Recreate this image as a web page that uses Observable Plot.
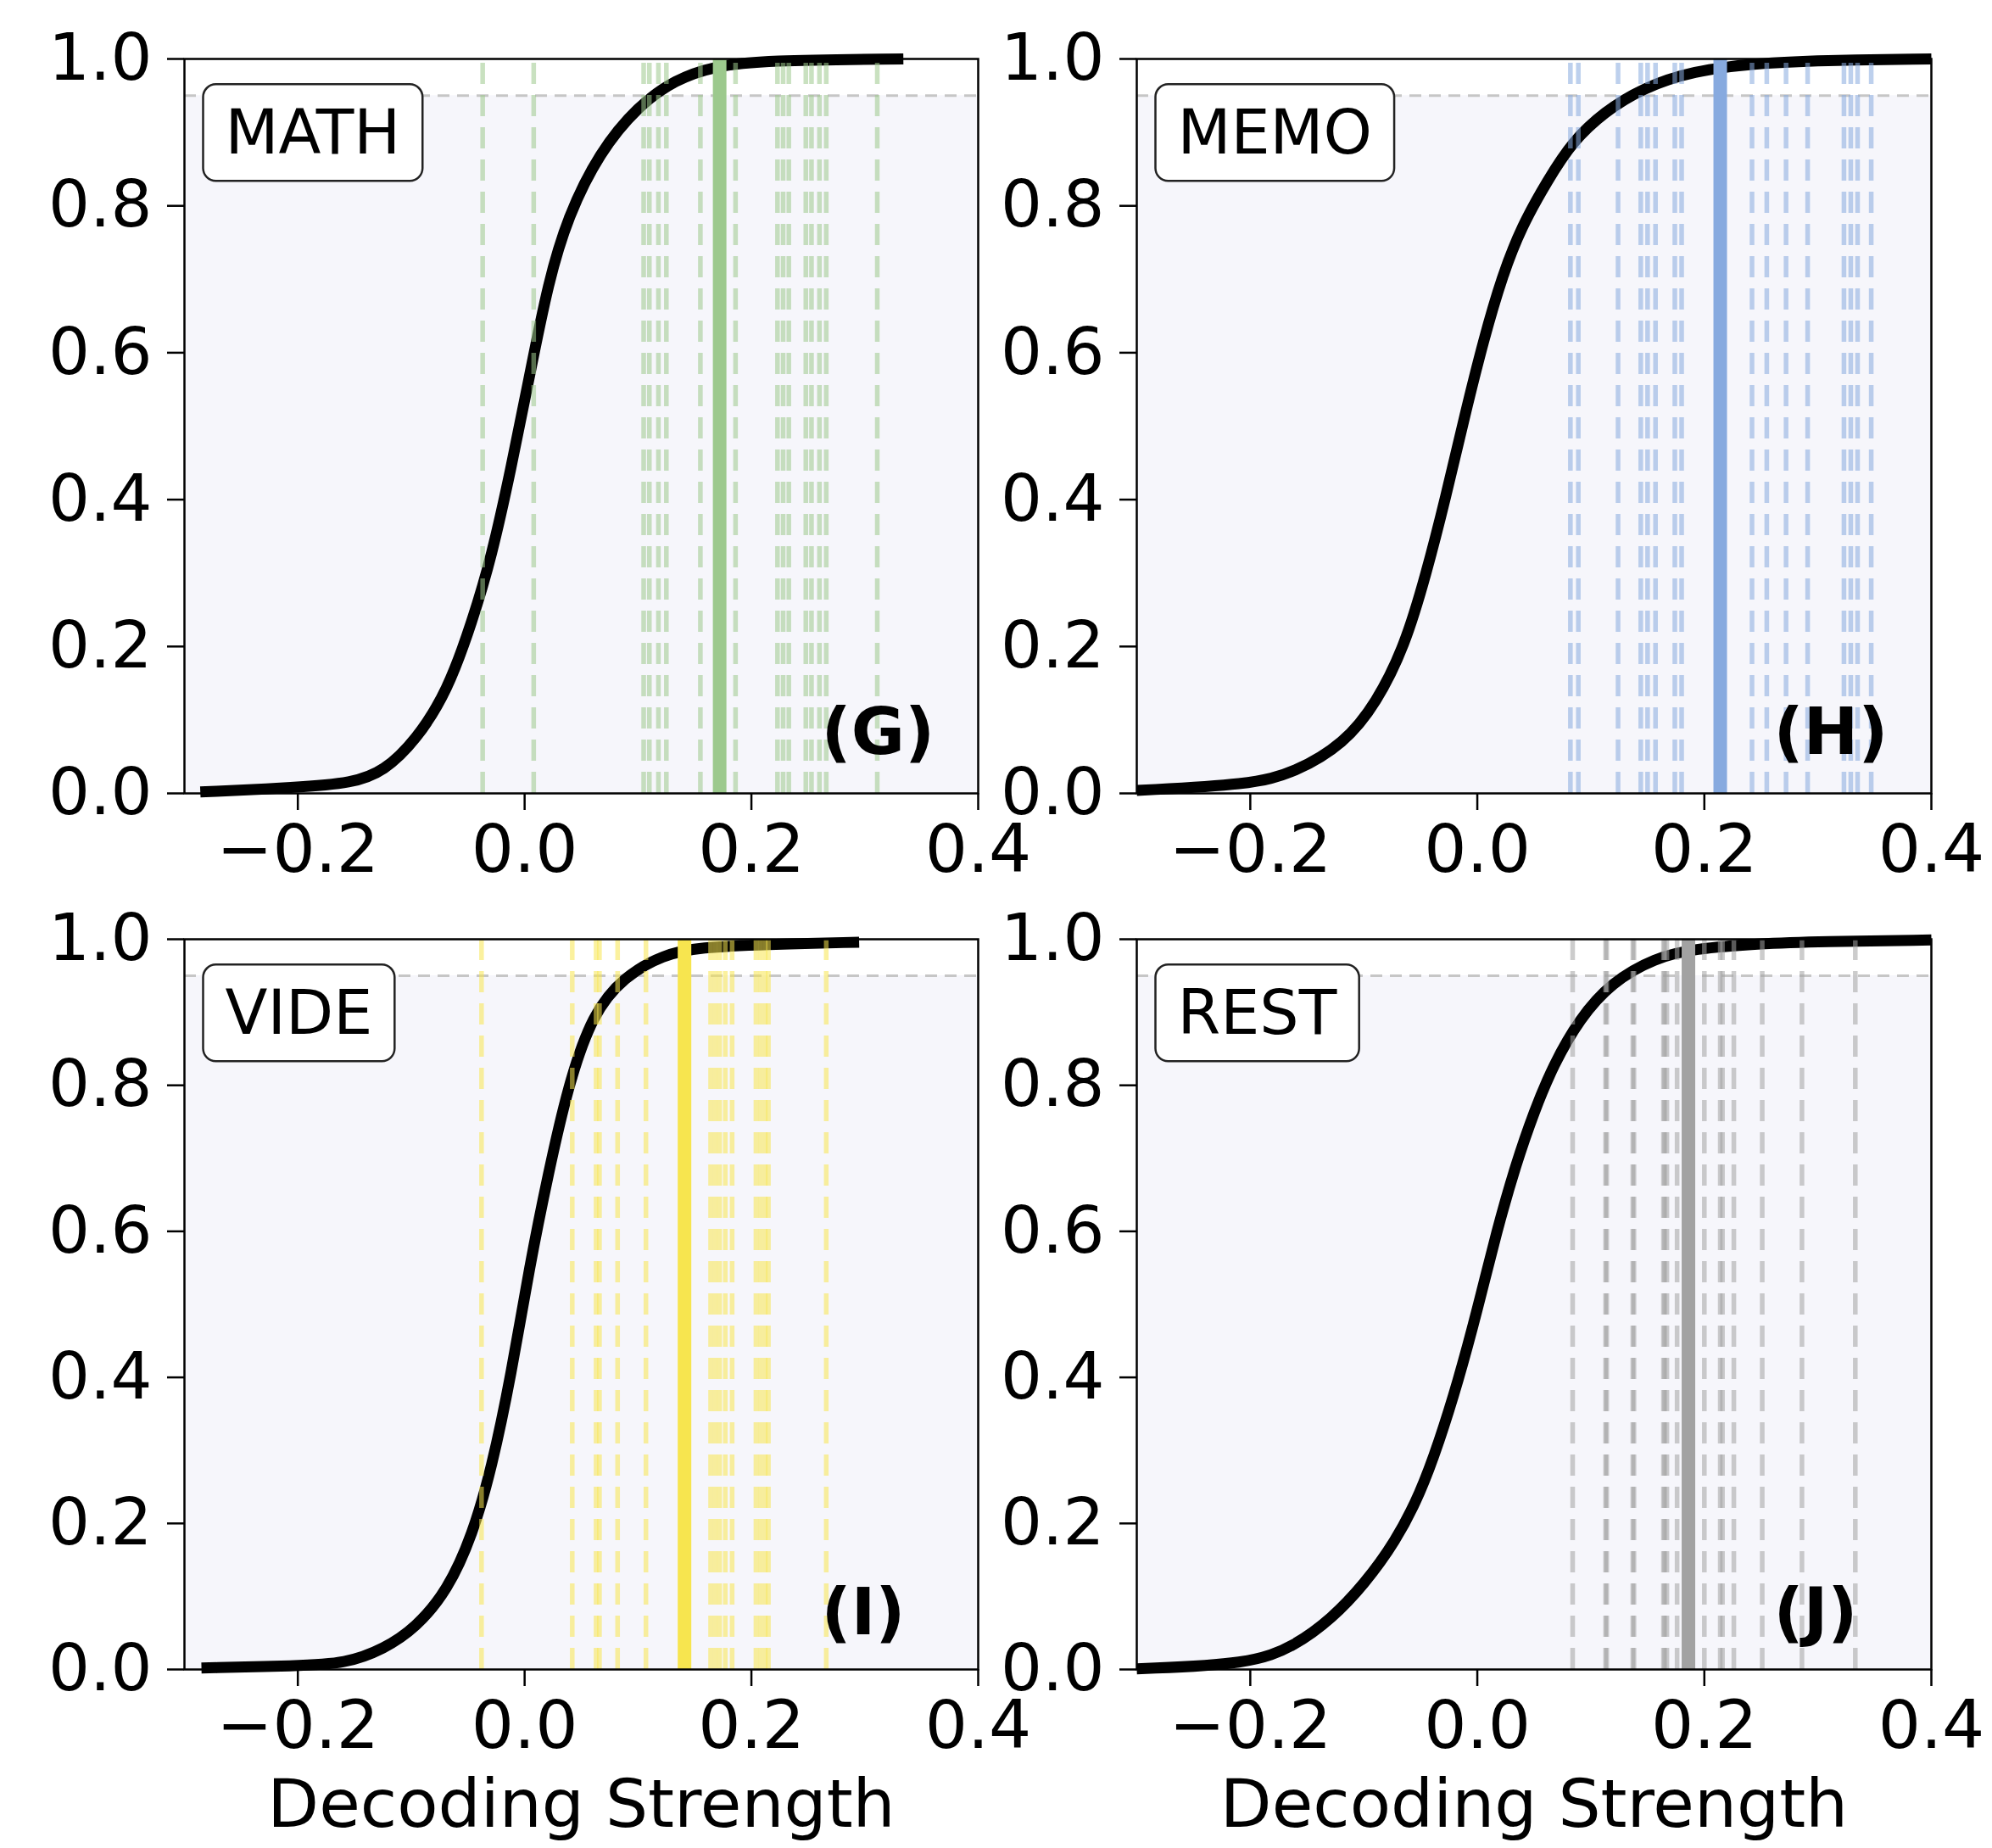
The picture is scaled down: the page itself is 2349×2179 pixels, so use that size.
<!DOCTYPE html>
<html>
<head>
<meta charset="utf-8">
<script src="https://cdn.jsdelivr.net/npm/d3@7"></script>
<script src="https://cdn.jsdelivr.net/npm/@observablehq/plot@0.6"></script>
<style>
  body { margin: 0; background: #ffffff; }
  #root { position: relative; width: 2349px; height: 2179px; overflow: hidden; background: #ffffff; }
  #root svg { position: absolute; overflow: visible; max-width: none; }
</style>
</head>
<body>
<div id="root"></div>
<script>
// ---------- shared axis values ----------
const xTicks = [-0.2, 0.0, 0.2, 0.4];
const yTicks = [0.0, 0.2, 0.4, 0.6, 0.8, 1.0];
const xDomain = [-0.3, 0.4];
const yDomain = [0, 1];
const threshold = 0.95;
const xLabel = "Decoding Strength";

// ---------- panel names ----------
const panelNames = ["MATH", "MEMO", "VIDE", "REST"];
const panelLetters = ["(G)", "(H)", "(I)", "(J)"];

// ---------- null-distribution CDF curves ----------
const mathCurveX = [-0.286, -0.2, -0.152, -0.124, -0.096, -0.068, -0.046, -0.029, -0.012, 0.0045, 0.021, 0.038, 0.066, 0.1, 0.133, 0.167, 0.211, 0.334];
const mathCurveY = [0.002, 0.008, 0.014, 0.03, 0.072, 0.139, 0.235, 0.323, 0.442, 0.57, 0.697, 0.785, 0.873, 0.936, 0.972, 0.99, 0.998, 1.0];

const memoCurveX = [-0.3, -0.2, -0.161, -0.117, -0.089, -0.064, -0.045, -0.028, -0.011, 0.0056, 0.022, 0.039, 0.062, 0.084, 0.112, 0.145, 0.19, 0.246, 0.302, 0.4];
const memoCurveY = [0.004, 0.012, 0.028, 0.068, 0.123, 0.2, 0.299, 0.402, 0.515, 0.618, 0.705, 0.772, 0.835, 0.888, 0.928, 0.96, 0.984, 0.994, 0.998, 1.0];

const videCurveX = [-0.285, -0.2, -0.158, -0.124, -0.096, -0.068, -0.046, -0.029, -0.012, 0.0045, 0.021, 0.038, 0.06, 0.088, 0.122, 0.155, 0.211, 0.295];
const videCurveY = [0.002, 0.005, 0.008, 0.028, 0.057, 0.108, 0.184, 0.276, 0.402, 0.554, 0.68, 0.798, 0.899, 0.949, 0.979, 0.989, 0.993, 0.996];

const restCurveX = [-0.3, -0.2, -0.161, -0.128, -0.1, -0.072, -0.05, -0.034, -0.017, 0.0, 0.017, 0.034, 0.05, 0.067, 0.09, 0.118, 0.157, 0.191, 0.247, 0.303, 0.4];
const restCurveY = [0.001, 0.007, 0.032, 0.07, 0.116, 0.175, 0.242, 0.31, 0.394, 0.492, 0.6, 0.692, 0.764, 0.828, 0.891, 0.941, 0.975, 0.987, 0.994, 0.997, 0.999];

// ---------- individual decoding strengths (dashed) and their mean (solid) ----------
const mathDashes = [-0.037, 0.008, 0.105, 0.110, 0.118, 0.125, 0.155, 0.186, 0.223, 0.228, 0.233, 0.248, 0.253, 0.260, 0.266, 0.311];
const mathMean = 0.172;
const memoDashes = [0.082, 0.089, 0.124, 0.144, 0.150, 0.157, 0.174, 0.180, 0.242, 0.255, 0.272, 0.291, 0.323, 0.329, 0.335, 0.347];
const memoMean = 0.214;
const videDashes = [-0.038, 0.042, 0.063, 0.066, 0.082, 0.107, 0.164, 0.168, 0.172, 0.177, 0.183, 0.204, 0.208, 0.212, 0.215, 0.266];
const videMean = 0.141;
const restDashes = [0.084, 0.113, 0.114, 0.137, 0.138, 0.164, 0.165, 0.167, 0.176, 0.200, 0.214, 0.216, 0.226, 0.251, 0.286, 0.333];
const restMean = 0.186;

// ---------- colours ----------
const panelColors = ["#9cc98d", "#87aadf", "#f7e54f", "#a2a2a2"];
const shadeColor = "#f6f6fb";

const curvesX = [mathCurveX, memoCurveX, videCurveX, restCurveX];
const curvesY = [mathCurveY, memoCurveY, videCurveY, restCurveY];
const dashes = [mathDashes, memoDashes, videDashes, restDashes];
const means = [mathMean, memoMean, videMean, restMean];

// ---------- layout of the four panels (pixels) ----------
const layout = [
  {left: 0,    top: 0,    width: 1175, height: 1040, mL: 217, mR: 22, mT: 69, mB: 105, xlab: false},
  {left: 1175, top: 0,    width: 1174, height: 1040, mL: 165, mR: 72, mT: 69, mB: 105, xlab: false},
  {left: 0,    top: 1040, width: 1175, height: 1139, mL: 217, mR: 22, mT: 67, mB: 211, xlab: true},
  {left: 1175, top: 1040, width: 1174, height: 1139, mL: 165, mR: 72, mT: 67, mB: 211, xlab: true}
];

const fmt = d3.format(".1f");
const root = document.getElementById("root");

function makePanel(i) {
  const L = layout[i];
  const color = panelColors[i];
  const curve = curvesX[i].map((x, k) => ({x, y: curvesY[i][k]}));
  const marks = [
    Plot.rect([threshold], {x1: xDomain[0], x2: xDomain[1], y1: yDomain[0], y2: d => d, fill: shadeColor}),
    Plot.ruleY([threshold], {stroke: "#c6c6c6", strokeWidth: 3, strokeDasharray: "14,9"}),
    Plot.line(curve, {x: "x", y: "y", stroke: "black", strokeWidth: 13, curve: "basis", strokeLinecap: "butt"}),
    Plot.ruleX(dashes[i], {x: d => d, y1: yDomain[0], y2: yDomain[1], stroke: color, strokeOpacity: 0.55, strokeWidth: 5.5, strokeDasharray: "25,13"}),
    Plot.ruleX([means[i]], {x: d => d, y1: yDomain[0], y2: yDomain[1], stroke: color, strokeWidth: 16}),
    Plot.frame({stroke: "black", strokeWidth: 2.5}),
    Plot.axisX({ticks: xTicks, tickFormat: fmt, tickSize: 20, tickPadding: 16, fontSize: 79, strokeWidth: 2.5, label: null}),
    Plot.axisY({ticks: yTicks, tickFormat: fmt, tickSize: 20, tickPadding: 18, fontSize: 77, strokeWidth: 2.5, label: null}),
    Plot.text([panelNames[i]], {frameAnchor: "top-left", dx: 48, dy: 88, textAnchor: "start", lineAnchor: "middle", fontSize: 73, fill: "black"}),
    Plot.text([panelLetters[i]], {frameAnchor: "top-left", dx: 751, dy: 795, textAnchor: "start", lineAnchor: "middle", fontSize: 77, fontWeight: "bold", fill: "black"})
  ];
  if (L.xlab) {
    marks.push(Plot.text([xLabel], {frameAnchor: "bottom", dy: 160, lineAnchor: "middle", fontSize: 79, fill: "black"}));
  }
  const svg = Plot.plot({
    width: L.width,
    height: L.height,
    marginLeft: L.mL,
    marginRight: L.mR,
    marginTop: L.mT,
    marginBottom: L.mB,
    x: {domain: xDomain},
    y: {domain: yDomain},
    style: {fontFamily: "DejaVu Sans", color: "black", background: "transparent", overflow: "visible"},
    marks
  });
  svg.style.left = L.left + "px";
  svg.style.top = L.top + "px";
  root.appendChild(svg);

  // rounded white box behind the condition name
  const t = Array.from(svg.querySelectorAll("text")).find(e => e.textContent === panelNames[i]);
  if (t) {
    const sr = svg.getBoundingClientRect();
    const tr = t.getBoundingClientRect();
    const cx0 = tr.left - sr.left;
    const cy = tr.top - sr.top + tr.height / 2;
    const r = document.createElementNS("http://www.w3.org/2000/svg", "rect");
    r.setAttribute("x", cx0 - 26);
    r.setAttribute("y", cy - 56);
    r.setAttribute("width", tr.width + 52);
    r.setAttribute("height", 114);
    r.setAttribute("rx", 15);
    r.setAttribute("fill", "white");
    r.setAttribute("stroke", "#222");
    r.setAttribute("stroke-width", 2.5);
    let g = t;
    while (g.parentNode !== svg) g = g.parentNode;
    svg.insertBefore(r, g);
  }
}

for (let i = 0; i < 4; i++) makePanel(i);
</script>
</body>
</html>
